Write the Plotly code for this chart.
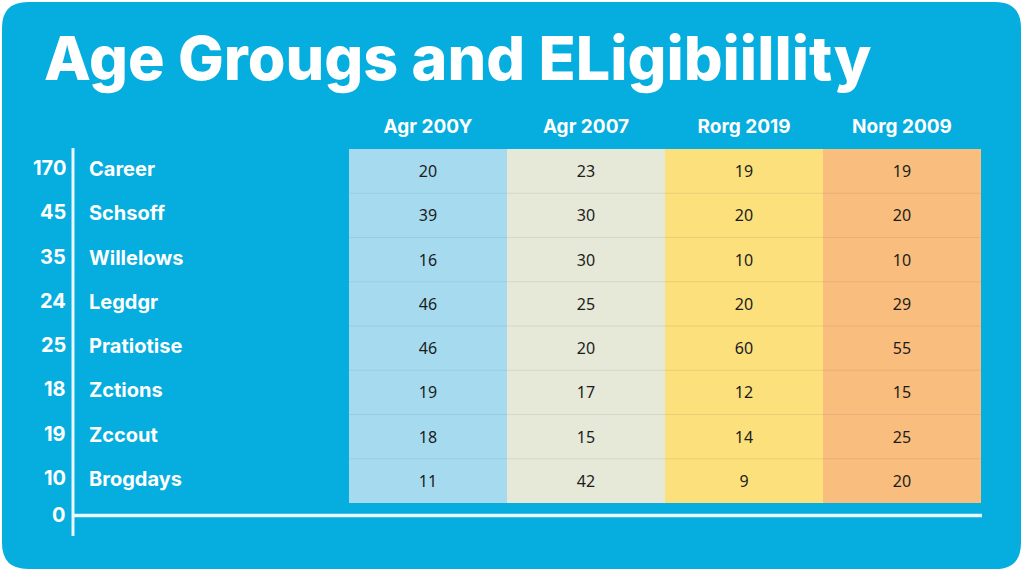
import plotly.graph_objects as go

W, H = 1024, 576

title = "Age Grougs and ELigibiillity"
columns = ["Agr 200Y", "Agr 2007", "Rorg 2019", "Norg 2009"]
rows = ["Career", "Schsoff", "Willelows", "Legdgr", "Pratiotise", "Zctions", "Zccout", "Brogdays"]
axis_ticks = ["170", "45", "35", "24", "25", "18", "19", "10"]
axis_zero = "0"

col_agr_200y = [20, 39, 16, 46, 46, 19, 18, 11]
col_agr_2007 = [23, 30, 30, 25, 20, 17, 15, 42]
col_rorg_2019 = [19, 20, 10, 20, 60, 12, 14, 9]
col_norg_2009 = [19, 20, 10, 29, 55, 15, 25, 20]

col_colors = ["#A6DBEF", "#E6E9D7", "#FBE07C", "#F9BE7D"]
BLUE = "#06ADDF"
LINE = "#EAF7FC"

series = [col_agr_200y, col_agr_2007, col_rorg_2019, col_norg_2009]
text = [[str(series[c][r]) for c in range(len(columns))] for r in range(len(rows))]
z = [[c for c in range(len(columns))] for r in range(len(rows))]

n = len(col_colors)
cscale = []
for i, col in enumerate(col_colors):
    cscale.append([i / n, col])
    cscale.append([(i + 1) / n, col])

px = lambda x: x / W
py = lambda y: 1 - y / H
x0_tab, x1_tab = 349, 981
y0_tab, y1_tab = 149, 503

fig = go.Figure()
fig.add_trace(go.Heatmap(
    x=columns, y=rows, z=z, text=text, texttemplate="%{text}",
    textfont=dict(family="Noto Sans", size=16, color="#1C1C1C"),
    colorscale=cscale, zmin=-0.5, zmax=n - 0.5, showscale=False,
    hoverinfo="skip",
))

shapes = []
r = 26
L, T, R, B = 2, 2, 1021, 569
def P(x, y):
    return f"{px(x)},{py(y)}"
path = (f"M {P(L + r, T)} L {P(R - r, T)} Q {P(R, T)} {P(R, T + r)} "
        f"L {P(R, B - r)} Q {P(R, B)} {P(R - r, B)} L {P(L + r, B)} "
        f"Q {P(L, B)} {P(L, B - r)} L {P(L, T + r)} Q {P(L, T)} {P(L + r, T)} Z")
shapes.append(dict(type="path", path=path, xref="paper", yref="paper",
                   fillcolor=BLUE, line=dict(width=0), layer="below"))
for i in range(len(rows) - 1):
    shapes.append(dict(type="line", xref="x domain", yref="y", x0=0, x1=1,
                       y0=i + 0.5, y1=i + 0.5,
                       line=dict(color="rgba(90,90,90,0.12)", width=1)))
shapes.append(dict(type="line", xref="paper", yref="paper",
                   x0=px(73), x1=px(73), y0=py(148), y1=py(536),
                   line=dict(color=LINE, width=3)))
shapes.append(dict(type="line", xref="paper", yref="paper",
                   x0=px(72), x1=px(982), y0=py(515.5), y1=py(515.5),
                   line=dict(color=LINE, width=3.5)))

annotations = [dict(text=title, xref="paper", yref="paper",
                    x=px(42), y=py(58), xanchor="left", yanchor="middle",
                    showarrow=False,
                    font=dict(family="Inter", size=61, color="white", weight=800))]
for lab, tk in zip(rows, axis_ticks):
    annotations.append(dict(text=lab, xref="paper", yref="y",
                            x=px(87), y=lab, xanchor="left", yanchor="middle",
                            yshift=2, showarrow=False,
                            font=dict(family="Inter", size=20, color="white", weight=700)))
    annotations.append(dict(text=tk, xref="paper", yref="y",
                            x=px(68), y=lab, xanchor="right", yanchor="middle",
                            yshift=3, showarrow=False,
                            font=dict(family="Inter", size=20, color="white", weight=700)))
annotations.append(dict(text=axis_zero, xref="paper", yref="paper",
                        x=px(68), y=py(515), xanchor="right", yanchor="middle",
                        showarrow=False,
                        font=dict(family="Inter", size=20, color="white", weight=700)))

fig.update_layout(
    width=W, height=H, margin=dict(l=0, r=0, t=0, b=0),
    paper_bgcolor="white", plot_bgcolor="rgba(0,0,0,0)",
    shapes=shapes, annotations=annotations, showlegend=False,
    xaxis=dict(domain=[px(x0_tab), px(x1_tab)], side="top", showgrid=False,
               zeroline=False, showline=False, ticks="outside", ticklen=7,
               tickcolor="rgba(0,0,0,0)",
               tickfont=dict(family="Inter", size=19, color="white", weight=700),
               fixedrange=True),
    yaxis=dict(domain=[py(y1_tab), py(y0_tab)], autorange="reversed",
               showgrid=False, zeroline=False, showline=False,
               showticklabels=False, ticks="", fixedrange=True),
)

fig.write_html("out.html", config={"displayModeBar": False},
               post_script="document.body.style.margin='0';document.body.style.overflow='hidden';")
